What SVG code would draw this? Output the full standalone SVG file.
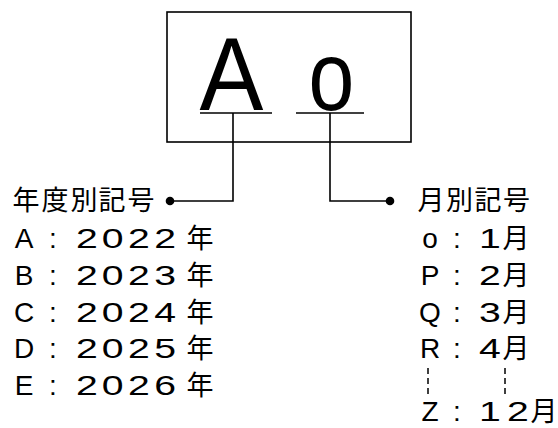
<svg xmlns="http://www.w3.org/2000/svg" width="558" height="428" viewBox="0 0 558 428">
<style>
.ln{fill:none;stroke:#000;stroke-width:1.6}
.dot{fill:#000}
.big{font-family:"Liberation Sans",Arial,sans-serif;font-size:103px;fill:#000;text-anchor:middle}
.lat{font-family:"Liberation Sans",Arial,sans-serif;font-size:28px;fill:#000;text-anchor:middle}
.dg{font-family:"Liberation Sans",Arial,sans-serif;font-size:28px;fill:#000;text-anchor:middle}
.cjk{font-family:"Noto Sans CJK JP","Noto Sans CJK SC",sans-serif;font-size:27px;fill:#000;text-anchor:middle}
.dash{fill:none;stroke:#000;stroke-width:1.5;stroke-dasharray:6 4}
</style>
<rect width="558" height="428" fill="#fff"/>
<g id="code-box">
<rect class="ln" x="167" y="12" width="244" height="130"/>
<text class="big" transform="translate(231.5,110) scale(0.93,1)" x="0" y="0">A</text>
<text class="big" transform="translate(331.5,110) scale(0.84,1)" x="0" y="0" style="font-size:98px">o</text>
<line class="ln" x1="200" y1="113" x2="272" y2="113"/>
<line class="ln" x1="296" y1="113" x2="364" y2="113"/>
</g>
<g id="connectors">
<path class="ln" d="M233 113V201H170"/>
<circle class="dot" cx="170" cy="201" r="4.3"/>
<path class="ln" d="M330 113V201H390"/>
<circle class="dot" cx="390" cy="201" r="4.3"/>
</g>
<g id="year-legend">
<text class="cjk" x="26 55 84 112 141" y="210">年度別記号</text>
<g id="year-A">
<text class="lat" x="24 53" y="248">A:</text>
<text class="dg" transform="translate(0,248) scale(1.4,1)" x="62.1 80.4 99.3 117.9" y="0">2022</text>
<text class="cjk" x="200" y="248">年</text>
</g>
<g id="year-B">
<text class="lat" x="24 53" y="285">B:</text>
<text class="dg" transform="translate(0,285) scale(1.4,1)" x="62.1 80.4 99.3 117.9" y="0">2023</text>
<text class="cjk" x="200" y="285">年</text>
</g>
<g id="year-C">
<text class="lat" x="24 53" y="322">C:</text>
<text class="dg" transform="translate(0,322) scale(1.4,1)" x="62.1 80.4 99.3 117.9" y="0">2024</text>
<text class="cjk" x="200" y="322">年</text>
</g>
<g id="year-D">
<text class="lat" x="24 53" y="358">D:</text>
<text class="dg" transform="translate(0,358) scale(1.4,1)" x="62.1 80.4 99.3 117.9" y="0">2025</text>
<text class="cjk" x="200" y="358">年</text>
</g>
<g id="year-E">
<text class="lat" x="24 53" y="395">E:</text>
<text class="dg" transform="translate(0,395) scale(1.4,1)" x="62.1 80.4 99.3 117.9" y="0">2026</text>
<text class="cjk" x="200" y="395">年</text>
</g>
</g>
<g id="month-legend">
<text class="cjk" x="431 459.5 488 516.5" y="210">月別記号</text>
<g id="month-o">
<text class="lat" x="430 457" y="248">o:</text>
<text class="dg" transform="translate(0,248) scale(1.4,1)" x="350" y="0">1</text>
<text class="cjk" x="516" y="248">月</text>
</g>
<g id="month-P">
<text class="lat" x="430 457" y="285">P:</text>
<text class="dg" transform="translate(0,285) scale(1.4,1)" x="350" y="0">2</text>
<text class="cjk" x="516" y="285">月</text>
</g>
<g id="month-Q">
<text class="lat" x="430 457" y="322">Q:</text>
<text class="dg" transform="translate(0,322) scale(1.4,1)" x="350" y="0">3</text>
<text class="cjk" x="516" y="322">月</text>
</g>
<g id="month-R">
<text class="lat" x="430 457" y="358">R:</text>
<text class="dg" transform="translate(0,358) scale(1.4,1)" x="350" y="0">4</text>
<text class="cjk" x="516" y="358">月</text>
</g>
<line class="dash" x1="428" y1="368" x2="428" y2="396"/>
<line class="dash" x1="505" y1="368" x2="505" y2="396"/>
<g id="month-Z">
<text class="lat" x="430 457" y="421">Z:</text>
<text class="dg" transform="translate(0,421) scale(1.4,1)" x="350 370" y="0">12</text>
<text class="cjk" x="544" y="421">月</text>
</g>
</g>
</svg>
